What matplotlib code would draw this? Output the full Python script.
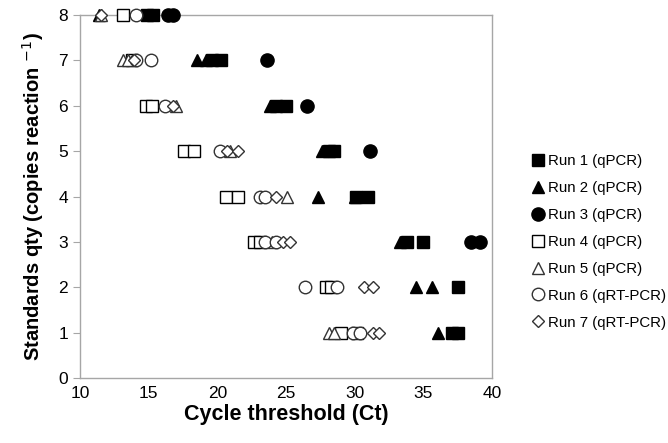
import matplotlib
matplotlib.use("Agg")
import matplotlib.pyplot as plt

plt.rcParams['font.family'] = ['Liberation Sans', 'DejaVu Sans']

# Cycle threshold (Ct) readings and standard quantity for each run
run1_ct = [14.9, 15.3, 19.6, 20.3, 24.3, 25.0, 28.1, 28.5, 30.1, 31.0, 33.8, 35.0, 37.5, 37.1, 37.5]
run1_qty = [8, 8, 7, 7, 6, 6, 5, 5, 4, 4, 3, 3, 2, 1, 1]

run2_ct = [11.4, 18.5, 19.2, 23.8, 27.6, 27.3, 30.0, 33.3, 34.5, 35.6, 36.1]
run2_qty = [8, 7, 7, 6, 5, 4, 4, 3, 2, 2, 1]

run3_ct = [16.4, 16.8, 23.6, 26.5, 31.1, 38.5, 39.1]
run3_qty = [8, 8, 7, 6, 5, 3, 3]

run4_ct = [13.1, 13.8, 14.8, 15.25, 17.6, 18.3, 20.6, 21.5, 22.7, 23.1, 27.9, 28.3, 29.0, 30.2]
run4_qty = [8, 7, 6, 6, 5, 5, 4, 4, 3, 3, 2, 2, 1, 1]

run5_ct = [11.5, 13.1, 13.5, 17.0, 20.9, 25.1, 24.0, 28.1, 28.5]
run5_qty = [8, 7, 7, 6, 5, 4, 3, 1, 1]

run6_ct = [14.1, 14.1, 15.2, 16.2, 20.2, 23.1, 23.5, 23.5, 24.3, 26.4, 28.7, 29.9, 30.4]
run6_qty = [8, 7, 7, 6, 5, 4, 4, 3, 3, 2, 2, 1, 1]

run7_ct = [11.5, 13.9, 16.8, 20.7, 21.5, 24.3, 24.8, 25.3, 30.7, 31.3, 31.3, 31.8]
run7_qty = [8, 7, 6, 5, 5, 4, 3, 3, 2, 2, 1, 1]

labels = ["Run 1 (qPCR)", "Run 2 (qPCR)", "Run 3 (qPCR)", "Run 4 (qPCR)",
          "Run 5 (qPCR)", "Run 6 (qRT-PCR)", "Run 7 (qRT-PCR)"]

runs = [
    (run1_ct, run1_qty, dict(marker='s', ms=8, mfc='black', mec='black')),
    (run2_ct, run2_qty, dict(marker='^', ms=9, mfc='black', mec='black')),
    (run3_ct, run3_qty, dict(marker='o', ms=9.5, mfc='black', mec='black')),
    (run4_ct, run4_qty, dict(marker='s', ms=8, mfc='white', mec='black', mew=1.0)),
    (run5_ct, run5_qty, dict(marker='^', ms=9, mfc='white', mec='#333333', mew=1.0)),
    (run6_ct, run6_qty, dict(marker='o', ms=9, mfc='white', mec='#333333', mew=1.0)),
    (run7_ct, run7_qty, dict(marker='D', ms=6.5, mfc='white', mec='#333333', mew=1.0)),
]

fig = plt.figure(figsize=(6.68, 4.43), dpi=100)
ax = fig.add_axes([0.1198, 0.1467, 0.6167, 0.8194])

for (ct, qty, style), lab in zip(runs, labels):
    ax.plot(ct, qty, linestyle='none', label=lab, clip_on=False, zorder=3, **style)

ax.set_xlim(10, 40)
ax.set_ylim(0, 8)
ax.set_xticks(range(10, 41, 5))
ax.set_yticks(range(0, 9))

for sp in ax.spines.values():
    sp.set_color('#a6a6a6')
    sp.set_linewidth(1.0)

ax.tick_params(axis='both', labelsize=12.5, colors='#a6a6a6', labelcolor='black',
               direction='out', length=5)
ax.tick_params(axis='x', length=0, pad=6)

ax.set_xlabel("Cycle threshold (Ct)", fontsize=15.5, fontweight='bold', labelpad=2)
ax.set_ylabel("Standards qty (copies reaction $^{-1}$)", fontsize=14.5, fontweight='bold', labelpad=9)

leg = ax.legend(loc='center left', bbox_to_anchor=(1.075, 0.375), frameon=False,
                fontsize=10.8, handletextpad=0.05, labelspacing=0.86, borderaxespad=0,
                handlelength=1.2)

fig.savefig("out.png", dpi=100)
